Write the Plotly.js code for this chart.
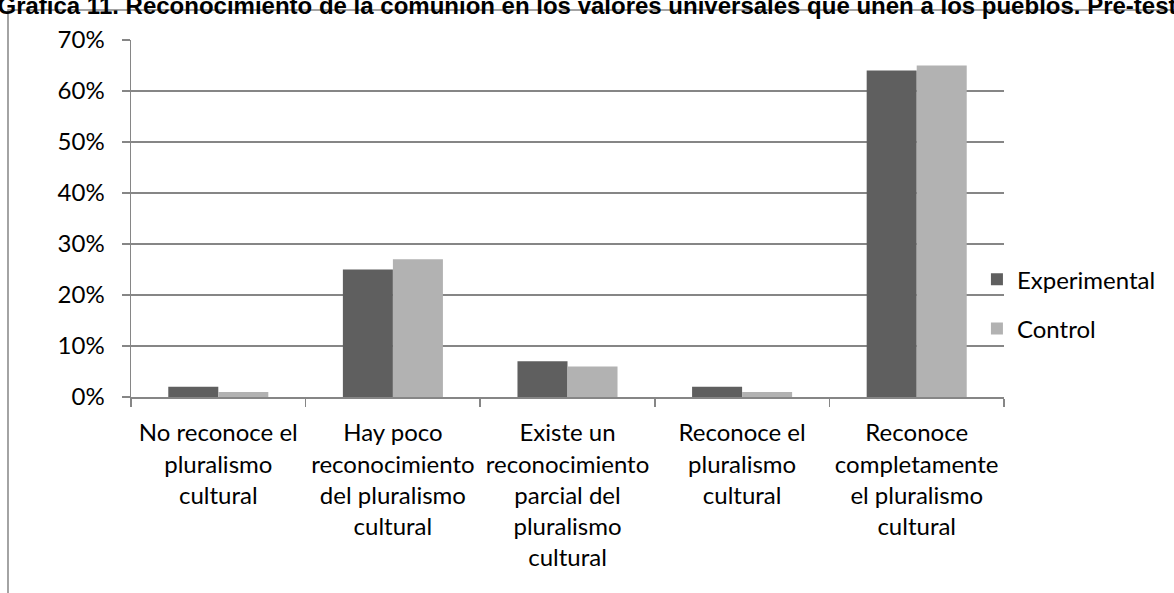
<!DOCTYPE html>
<html><head><meta charset="utf-8">
<script src="https://cdn.plot.ly/plotly-3.0.1.min.js"></script>
<style>html,body{margin:0;padding:0;background:#fff;}</style>
</head><body>
<div id="chart" style="width:1174px;height:593px;"></div>
<script>
const categories = [
  "No reconoce el<br>pluralismo<br>cultural",
  "Hay poco<br>reconocimiento<br>del pluralismo<br>cultural",
  "Existe un<br>reconocimiento<br>parcial del<br>pluralismo<br>cultural",
  "Reconoce el<br>pluralismo<br>cultural",
  "Reconoce<br>completamente<br>el pluralismo<br>cultural"
];
const experimental = [0.02, 0.25, 0.07, 0.02, 0.64];
const control = [0.01, 0.27, 0.06, 0.01, 0.65];
const yTicks = [0, 0.1, 0.2, 0.3, 0.4, 0.5, 0.6, 0.7];
const titleText = "Gráfica 11. Reconocimiento de la comunión en los valores universales que unen a los pueblos. Pre-test";

const font = "Lato, 'Open Sans', sans-serif";
const traces = [
  {type:'bar', name:'Experimental', x:categories, y:experimental, marker:{color:'#5f5f5f'}, legendgroup:'a'},
  {type:'bar', name:'Control', x:categories, y:control, marker:{color:'#b2b2b2'}, legendgroup:'b'}
];
const layout = {
  width:1174, height:593,
  margin:{l:131, r:170, t:40, b:196},
  paper_bgcolor:'#fff', plot_bgcolor:'#fff',
  font:{family:font, size:24, color:'#000'},
  title:{text:'<b>'+titleText+'</b>', font:{family:'Liberation Sans, Arial, sans-serif', size:24, color:'#000'},
         xref:'container', x:0.5, xanchor:'center', yref:'container', y:0.99, yanchor:'middle'},
  barmode:'group', bargap:0.427, bargroupgap:0,
  xaxis:{type:'category', showline:true, linecolor:'#868686', linewidth:1.5, ticks:'outside', tickson:'boundaries',
         ticklen:8, tickcolor:'#868686', tickwidth:1.5, showgrid:false, tickfont:{family:font, size:24},
         ticklabelstandoff:14, automargin:false},
  yaxis:{range:[0,0.7], tickvals:yTicks, tickformat:'.0%', showline:true, linecolor:'#868686', linewidth:1.5,
         ticks:'outside', ticklen:8, tickcolor:'#868686', tickwidth:1.5, showgrid:true, gridcolor:'#868686', gridwidth:1.5,
         zeroline:false, tickfont:{family:font, size:24}, ticklabelstandoff:12, automargin:false},
  legend:{x:0.969, xanchor:'left', y:0.26, yanchor:'middle', tracegroupgap:15, font:{family:font, size:24},
          itemwidth:30, bgcolor:'rgba(0,0,0,0)'},
  shapes:[
    {type:'rect', xref:'paper', yref:'paper', x0:-0.1409, x1:1.2245, y0:-0.625, y1:1.084,
     line:{color:'#868686', width:1.5}, fillcolor:'rgba(0,0,0,0)', layer:'below'}
  ]
};
Plotly.newPlot('chart', traces, layout, {displayModeBar:false, staticPlot:true});
</script>
</body></html>
